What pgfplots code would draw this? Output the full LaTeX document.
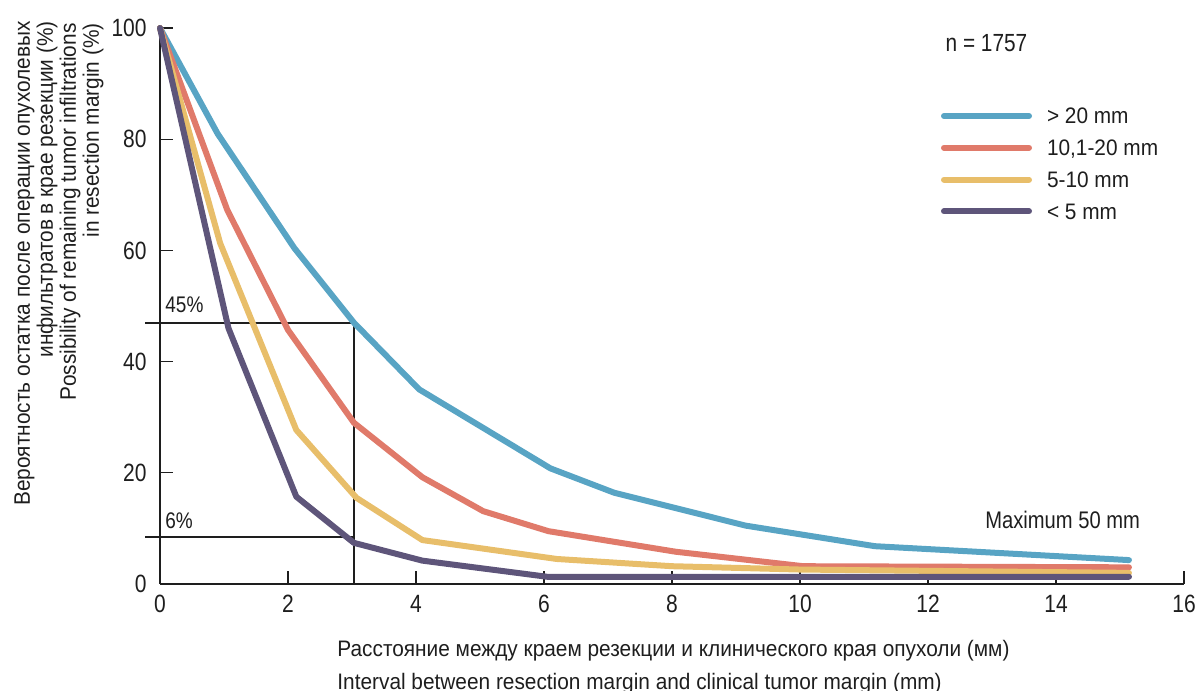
\documentclass[border=0pt]{standalone}
\usepackage{fontspec}
\setmainfont{Liberation Sans}[FakeStretch=0.84]
\newfontfamily\labfont{Liberation Sans}[FakeStretch=0.93]
\usepackage{pgfplots}
\pgfplotsset{compat=1.18}
\definecolor{cblue}{RGB}{88,164,196}
\definecolor{cred}{RGB}{224,122,106}
\definecolor{cyel}{RGB}{232,190,106}
\definecolor{cpur}{RGB}{94,85,122}
\definecolor{ink}{RGB}{30,30,30}
\newcommand{\fs}[1]{\fontsize{#1}{#1}\selectfont}
\begin{document}
\begin{tikzpicture}
\begin{axis}[
  at={(0,0)}, anchor=south west,
  scale only axis, width=512pt, height=278pt,
  xmin=0, xmax=16, ymin=0, ymax=100,
  axis x line*=bottom, axis y line*=left,
  axis line style={line width=1.3pt, ink},
  xtick={0,2,...,16}, ytick={0,20,...,100},
  tick align=inside, major tick length=6.5pt,
  tick style={line width=0.6pt, ink},
  ticklabel style={font=\fs{12.5}, text=ink, inner sep=0pt},
  xticklabel style={anchor=north, yshift=-5.5pt},
  yticklabel style={anchor=east, xshift=-6.5pt},
  /pgf/number format/assume math mode=true,
  clip=false,
  legend image code/.code={\draw[#1, line width=3pt, line cap=round] (0pt,0pt) -- (42.5pt,0pt);},
  legend style={draw=none, fill=none, inner sep=0pt, outer sep=0pt,
    at={(0.7627,0.8562)}, anchor=north west,
    row sep=7.9pt, column sep=7.5pt, font=\labfont\fs{11.2},
    nodes={inner sep=0pt, text height=8pt, text depth=0pt, text=ink},
    cells={anchor=west}},
]
\addplot[ink, line width=1pt, forget plot] coordinates {(-0.23,46.9) (3.03,46.9) (3.03,0)};
\addplot[ink, line width=1pt, forget plot] coordinates {(-0.23,8.4) (3.03,8.4)};
\addplot[cblue, line width=3pt, line join=round, line cap=round] coordinates {
(0,100) (0.9,81) (2.1,60.4) (3.03,47) (4.05,35) (6.1,20.8) (7.1,16.4) (9.15,10.5) (11.17,6.8) (15.14,4.3)};
\addlegendentry{> 20 mm}
\addplot[cred, line width=3pt, line join=round, line cap=round] coordinates {
(0,100) (1.05,67.3) (2.0,45.7) (3.03,29) (4.1,19.2) (5.05,13.1) (6.07,9.5) (8.06,5.8) (10.05,3.2) (15.14,3.0)};
\addlegendentry{10,1-20 mm}
\addplot[cyel, line width=3pt, line join=round, line cap=round] coordinates {
(0,100) (0.94,61.3) (2.13,27.7) (3.07,15.5) (4.1,7.9) (6.2,4.5) (8,3.2) (10,2.6) (15.14,2.0)};
\addlegendentry{5-10 mm}
\addplot[cpur, line width=3pt, line join=round, line cap=round] coordinates {
(0,100) (1.07,46) (2.13,15.7) (3.03,7.4) (4.1,4.2) (6.05,1.3) (15.14,1.3)};
\addlegendentry{< 5 mm}
\node[anchor=base west, inner sep=0pt, font=\fs{11.3}, text=ink] at (axis cs:0.078,48.9) {45\%};
\node[anchor=base west, inner sep=0pt, font=\fs{11.3}, text=ink] at (axis cs:0.078,9.9) {6\%};
\node[anchor=base west, inner sep=0pt, font=\fs{12}, text=ink] at (axis cs:12.89,9.9) {Maximum 50 mm};
\node[anchor=base west, inner sep=0pt, font=\fs{12.4}, text=ink] at (axis cs:12.27,95.7) {n = 1757};
\end{axis}
\begin{scope}[every node/.style={inner sep=0pt, font=\labfont\fs{11.2}, text=ink}]
\node[rotate=90, anchor=base east] at (-65pt,281.5pt) {Вероятность остатка после операции опухолевых};
\node[rotate=90, anchor=base east] at (-53.5pt,281.5pt) {инфильтратов в крае резекции (\%)};
\node[rotate=90, anchor=base east] at (-42pt,280.5pt) {Possibility of remaining tumor infiltrations};
\node[rotate=90, anchor=base east] at (-30.5pt,280.5pt) {in resection margin (\%)};
\node[anchor=base west] at (88.5pt,-36pt) {Расстояние между краем резекции и клинического края опухоли (мм)};
\node[anchor=base west] at (88.5pt,-52.5pt) {Interval between resection margin and clinical tumor margin (mm)};
\end{scope}
\pgfresetboundingbox
\path (-80pt,-53.5pt) rectangle (517.5pt,292pt);
\end{tikzpicture}
\end{document}
